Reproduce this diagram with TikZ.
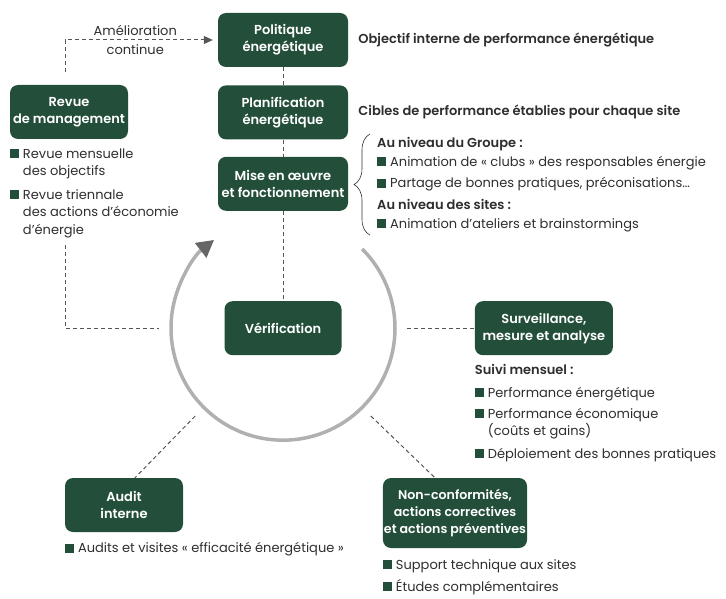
\documentclass[tikz,border=0pt]{standalone}
\usepackage{fontspec}
\setmainfont{Poppins}[BoldFont={Poppins SemiBold}]
\usetikzlibrary{positioning,arrows.meta,decorations.pathreplacing}

\definecolor{vert}{HTML}{234F3A}
\definecolor{texte}{HTML}{2E2E2E}
\definecolor{trait}{HTML}{555555}
\definecolor{anneau}{HTML}{B0B0B0}
\definecolor{pointe}{HTML}{666666}

\newcommand{\puce}{\textcolor{vert}{\rule{9pt}{9pt}}\hspace{4pt}}
\newcommand{\retrait}{\hspace{13pt}}

\begin{document}
\begin{tikzpicture}[x=1pt, y=1pt,
node distance = 18pt and 10pt,
boite/.style={fill=vert, rounded corners=8pt, text=white, align=center,
  font=\bfseries\fontsize{13}{17}\selectfont, minimum height=54pt, inner sep=1pt},
liste/.style={align=left, inner sep=0pt, text=texte, font=\fontsize{13}{17.5}\selectfont},
titre/.style={inner sep=0pt, text=texte, font=\bfseries\fontsize{13}{17.5}\selectfont},
tirets/.style={draw=trait, line width=1pt, dash pattern=on 4pt off 3pt},
boucle/.style={draw=anneau, line width=3.5pt,
  -{Triangle[length=17pt, width=18pt, color=pointe]}}]

\useasboundingbox (0,0) rectangle (726,-599);

% colonne centrale
\node[boite, minimum width=130pt] (politique) at (283,-40) {Politique\\énergétique};
\node[boite, minimum width=130pt] (planif) [below = of politique] {Planification\\énergétique};
\node[boite, minimum width=130pt] (mise) [below = 17pt of planif] {Mise en œuvre\\et fonctionnement};
\node[boite, minimum width=117pt] (verif) [below = 90pt of mise] {Vérification};
\node[circle, inner sep=0pt, minimum size=248pt] (ring) at (verif) {};

% boites autour
\node[boite, minimum width=118pt] (revue) at (69,-112) {Revue\\de management};
\node[boite, minimum width=138pt] (surv) [right = 133pt of verif] {Surveillance,\\mesure et analyse};
\node[boite, minimum width=118pt] (audit) at (124,-505) {Audit\\interne};
\node[boite, minimum width=144pt, minimum height=70pt, font=\bfseries\fontsize{12.6}{17}\selectfont]
  (nonconf) at (455,-513) {Non-conformités,\\actions correctives\\et actions préventives};

% textes
\node[titre] (objectif) [right = 10pt of politique, anchor=west] {Objectif interne de performance énergétique};
\node[titre] (cibles) [right = 10pt of planif, anchor=west] {Cibles de performance établies pour chaque site};
\node[liste, anchor=north west, inner ysep=3pt] (miseListe) at (377,-134)
  {\textbf{Au niveau du Groupe :}\\[1.5pt]
   \puce Animation de « clubs » des responsables énergie\\[4pt]
   \puce Partage de bonnes pratiques, préconisations…\\[4pt]
   \textbf{Au niveau des sites :}\\[1.5pt]
   \puce Animation d’ateliers et brainstormings};
\node[liste] (revueListe) [below = 9pt of revue.south west, anchor=north west]
  {\puce Revue mensuelle\\ \retrait des objectifs\\[6pt]
   \puce Revue triennale\\ \retrait des actions d’économie\\ \retrait d’énergie};
\node[liste] (survListe) [below = 9pt of surv.south west, anchor=north west]
  {\textbf{Suivi mensuel :}\\[5pt]
   \puce Performance énergétique\\[3.5pt]
   \puce Performance économique\\ \retrait (coûts et gains)\\[5pt]
   \puce Déploiement des bonnes pratiques};
\node[liste] (auditListe) [below = 10pt of audit.south west, anchor=north west]
  {\puce Audits et visites « efficacité énergétique »};
\node[liste] (nonconfListe) [below = 11pt of nonconf.south west, anchor=north west]
  {\puce Support technique aux sites\\[4.5pt]
   \puce Études complémentaires};

\draw[draw=texte, line width=0.6pt, decorate, decoration={brace, amplitude=16pt}]
  ([xshift=-7pt]miseListe.south west) -- ([xshift=-7pt]miseListe.north west);

% liaisons
\draw[tirets](politique)--(planif);
\draw[tirets](planif)--(mise);
\draw[tirets](mise)--(verif);
\draw[tirets](ring.east)--(surv.west);
\draw[tirets](ring.south west)--([xshift=11pt]audit.north);
\draw[tirets](ring.south east)--([xshift=-20pt]nonconf.north);
\draw[tirets, shorten <=106pt]([xshift=-4pt]revue.south) |- (ring.west);
\draw[tirets, shorten <=13pt, shorten >=5pt, -{Triangle[length=9pt, width=8pt, color=trait]}]
  ([xshift=-4pt]revue.north) |- (politique.west)
  node[pos=0.73, above=4pt, liste, inner sep=0pt] {Amélioration}
  node[pos=0.73, below=4pt, liste, inner sep=0pt] {continue};

% cycle
\draw[boucle] ([shift={(45:112)}]verif.center) arc[start angle=45, end angle=-232, radius=112];
\end{tikzpicture}
\end{document}
